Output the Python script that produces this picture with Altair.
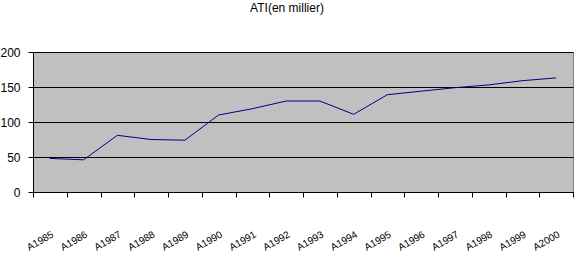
import altair as alt
import pandas as pd

years = ["A1985", "A1986", "A1987", "A1988", "A1989", "A1990", "A1991", "A1992",
         "A1993", "A1994", "A1995", "A1996", "A1997", "A1998", "A1999", "A2000"]
values = [48, 46, 81, 75, 74, 110, 119, 130, 130, 111, 139, 144, 149, 153, 159, 163]

df = pd.DataFrame({"annee": years, "ati": values})

line = alt.Chart(df).mark_line(color="#000080", strokeWidth=1).encode(
    x=alt.X("annee:N", sort=years, title=None,
            scale=alt.Scale(paddingInner=0, paddingOuter=0),
            axis=alt.Axis(tickBand="extent", labelAngle=-30, labelFontSize=10,
                          labelPadding=32, labelColor="#000000", tickColor="#000000",
                          domainColor="#000000", tickSize=5, grid=False,
                          labelFont="Liberation Sans")),
    y=alt.Y("ati:Q", title=None,
            scale=alt.Scale(domain=[0, 200], nice=False),
            axis=alt.Axis(values=[0, 50, 100, 150, 200], grid=True, gridColor="#000000",
                          gridOpacity=1, gridWidth=1, tickSize=5, tickColor="#000000",
                          domainColor="#000000", labelFontSize=12, labelPadding=8,
                          labelColor="#000000", labelFont="Liberation Sans")),
)

chart = line.properties(
    width=540, height=140,
    title=alt.TitleParams("ATI(en millier)", fontSize=12, fontWeight="normal",
                          font="Liberation Sans", color="#000000", anchor="middle",
                          dx=-16, offset=31),
    padding={"left": 33, "top": 52, "right": 1, "bottom": 62},
    autosize=alt.AutoSizeParams(type="none"),
    background="#FFFFFF",
).configure_view(fill="#C0C0C0", stroke="#808080", strokeWidth=1)

chart.save("out.html", embed_options={"renderer": "svg", "actions": False})
